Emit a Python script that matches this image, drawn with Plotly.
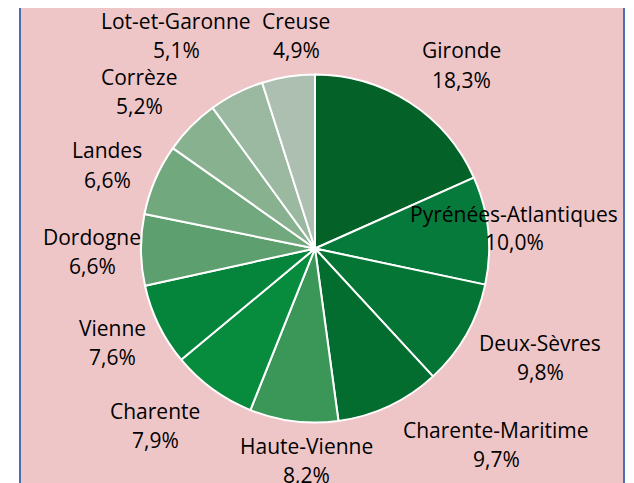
import plotly.graph_objects as go

# Répartition par département (Nouvelle-Aquitaine)
departements = ["Gironde", "Pyrénées-Atlantiques", "Deux-Sèvres", "Charente-Maritime",
                "Haute-Vienne", "Charente", "Vienne", "Dordogne", "Landes",
                "Corrèze", "Lot-et-Garonne", "Creuse"]
parts = [18.3, 10.0, 9.8, 9.7, 8.2, 7.9, 7.6, 6.6, 6.6, 5.2, 5.1, 4.9]

couleurs = ["#046228", "#067A3A", "#057536", "#036D30", "#3A9758", "#078C3E",
            "#05843B", "#5E9F6F", "#72A87E", "#88B18F", "#9BB9A1", "#ACBFB1"]

W, H = 634, 483
OFF = 8  # marge par défaut du <body> de la page html
INTERLIGNE = 29

# position des étiquettes (pixels écran, centre du bloc de texte)
pos_etiquettes = [(461, 65), (514, 228), (540, 357), (496, 444), (306, 460),
                  (155, 425), (112, 342), (92, 251), (107, 165), (139, 91),
                  (176, 36), (296, 36)]

cx, cy, r = 315 - OFF, 248.5 - OFF, 174


def px(x):
    return (x - OFF) / W


def py(y):
    return 1 - (y - OFF) / H


fig = go.Figure()
fig.add_trace(go.Pie(
    labels=departements,
    values=parts,
    sort=False,
    direction="clockwise",
    rotation=0,
    marker=dict(colors=couleurs, line=dict(color="#ffffff", width=2)),
    textinfo="none",
    hoverinfo="label+percent",
    domain=dict(x=[(cx - r) / W, (cx + r) / W],
                y=[(H - cy - r) / H, (H - cy + r) / H]),
))

police = dict(family="Open Sans", size=21, color="#000000")
for nom, val, (ex, ey) in zip(departements, parts, pos_etiquettes):
    # nom puis pourcentage sur deux lignes
    for texte, dy in ((nom, -INTERLIGNE / 2), (f"{val:.1f}%".replace(".", ","), INTERLIGNE / 2)):
        fig.add_annotation(
            x=px(ex), y=py(ey + dy), xref="paper", yref="paper",
            text=texte, showarrow=False, xanchor="center", yanchor="middle",
            font=police,
        )

# fond rose avec bordures bleues
fig.add_shape(type="rect", xref="paper", yref="paper",
              x0=px(20), x1=px(624), y0=-0.1, y1=1.1,
              fillcolor="#EFC6C7", line=dict(width=0), layer="below")
for bx in (20, 624):
    fig.add_shape(type="line", xref="paper", yref="paper",
                  x0=px(bx), x1=px(bx), y0=-0.1, y1=1.1,
                  line=dict(color="#4A6EB0", width=2))

fig.update_layout(
    width=W, height=H,
    margin=dict(l=0, r=0, t=0, b=0),
    paper_bgcolor="#ffffff",
    plot_bgcolor="#ffffff",
    showlegend=False,
)

fig.write_html("out.html")
